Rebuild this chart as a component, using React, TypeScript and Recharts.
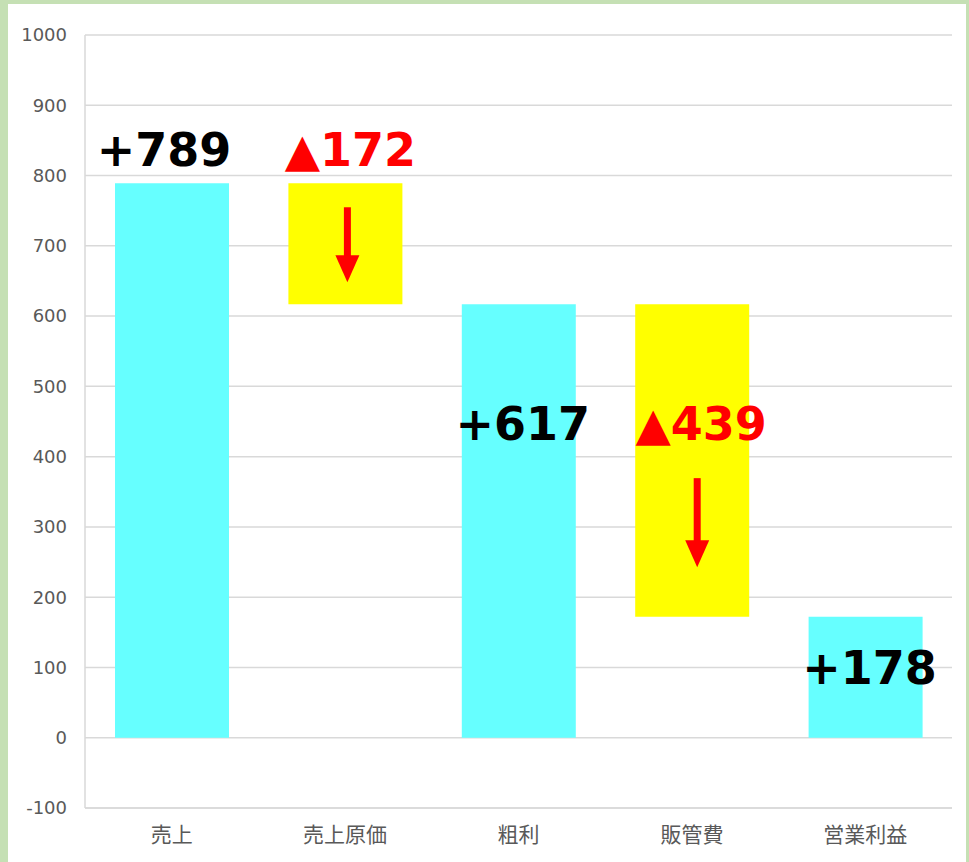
import React from 'react';
import { BarChart, Bar, XAxis, YAxis, CartesianGrid, Cell, LabelList } from 'recharts';

const categories = ['売上', '売上原価', '粗利', '販管費', '営業利益'];
const baseValues = [0, 617, 0, 172, 0];
const deltaValues = [789, 172, 617, 445, 172];
const labelTexts = ['+789', '▲172', '+617', '▲439', '+178'];
const isTotal = [true, false, true, false, true];
const yTicks = [-100, 0, 100, 200, 300, 400, 500, 600, 700, 800, 900, 1000];

const data = categories.map((name, i) => ({
  name,
  base: baseValues[i],
  delta: deltaValues[i],
}));

// label placement relative to the top of each visible bar
const labelDy = [-17, -17, 136, 136, 67];
const labelDx = [-8, 5, 4, 9, 4];
const arrowStart = [0, 24, 0, 174, 0];
const arrowLen = [0, 75, 0, 89, 0];
const arrowDx = [0, 2, 0, 5, 0];

const BarLabel = (props: any) => {
  const { x, y, width, index } = props;
  const cx = x + width / 2;
  const total = isTotal[index];
  const color = total ? '#000000' : '#FF0000';
  let arrow = null;
  if (!total) {
    const ax = cx + arrowDx[index];
    const y0 = y + arrowStart[index];
    const y1 = y0 + arrowLen[index];
    const headH = 27;
    arrow = (
      <g>
        <rect x={ax - 3.5} y={y0} width={7} height={arrowLen[index] - headH + 2} fill="#FF0000" />
        <polygon points={`${ax - 12},${y1 - headH} ${ax + 12},${y1 - headH} ${ax},${y1}`} fill="#FF0000" />
      </g>
    );
  }
  return (
    <g>
      {arrow}
      <text
        x={cx + labelDx[index]}
        y={y + labelDy[index]}
        textAnchor="middle"
        fill={color}
        fontSize={46}
        fontWeight="bold"
        fontFamily="'DejaVu Sans', sans-serif"
      >
        {labelTexts[index]}
      </text>
    </g>
  );
};

export default function App() {
  return (
    <div style={{ position: 'absolute', left: 0, top: 0, width: 969, height: 862, background: '#C5E0B4' }}>
      <div style={{ position: 'absolute', left: 8, top: 4, width: 958, height: 858, background: '#FFFFFF' }} />
      <div style={{ position: 'absolute', left: 0, top: 0 }}>
        <BarChart
          width={969}
          height={862}
          data={data}
          margin={{ top: 35, right: 17, left: 0, bottom: 0 }}
        >
          <CartesianGrid vertical={false} stroke="#D9D9D9" strokeWidth={1.5} />
          <XAxis
            dataKey="name"
            height={54}
            axisLine={{ stroke: '#D9D9D9', strokeWidth: 1.5 }}
            tickLine={false}
            tickMargin={13}
            tick={{ fill: '#595959', fontSize: 21, fontFamily: "'Noto Sans CJK JP', sans-serif" }}
          />
          <YAxis
            width={85}
            domain={[-100, 1000]}
            ticks={yTicks}
            interval={0}
            axisLine={{ stroke: '#D9D9D9', strokeWidth: 1.5 }}
            tickLine={false}
            tickMargin={12}
            tick={{ fill: '#595959', fontSize: 18, fontFamily: "'DejaVu Sans', sans-serif" }}
          />
          <Bar dataKey="base" stackId="w" fill="transparent" barSize={114} isAnimationActive={false} />
          <Bar dataKey="delta" stackId="w" barSize={114} isAnimationActive={false}>
            {data.map((d, i) => (
              <Cell key={d.name} fill={isTotal[i] ? '#66FFFF' : '#FFFF00'} />
            ))}
            <LabelList dataKey="delta" content={BarLabel} />
          </Bar>
        </BarChart>
      </div>
    </div>
  );
}
